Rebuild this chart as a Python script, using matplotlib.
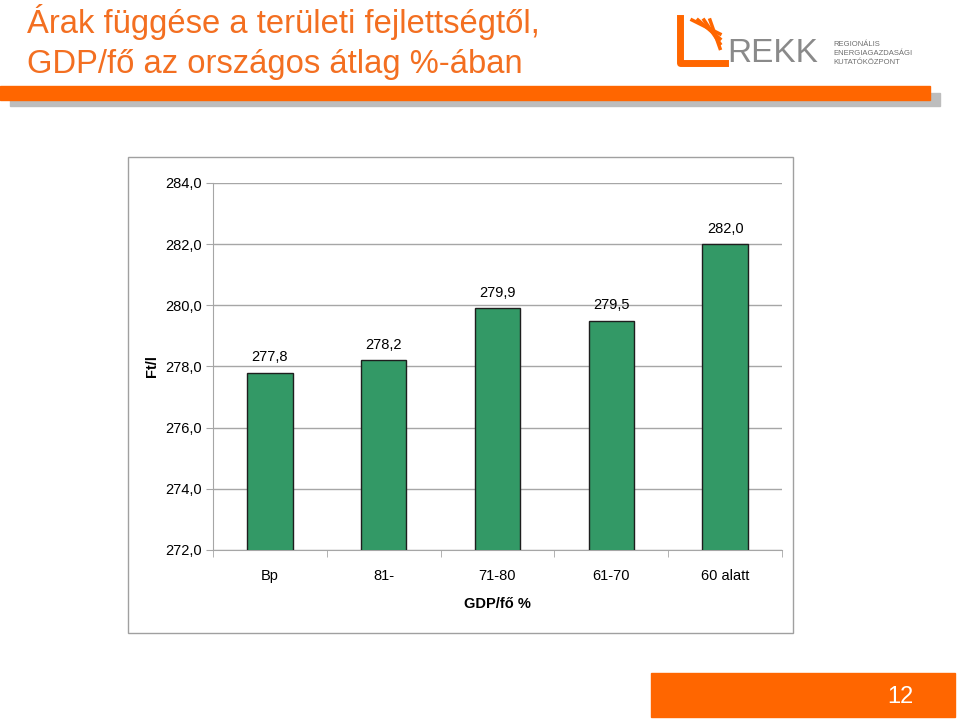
import matplotlib
matplotlib.use("Agg")
import matplotlib.pyplot as plt
from matplotlib.patches import Rectangle
import numpy as np

categories = ["Bp", "81-", "71-80", "61-70", "60 alatt"]
values = [277.8, 278.2, 279.9, 279.5, 282.0]
yticks = [272.0, 274.0, 276.0, 278.0, 280.0, 282.0, 284.0]

ORANGE = "#FF6600"
TITLE_ORANGE = "#F36F21"
plt.rcParams['font.family'] = ['Liberation Sans', 'DejaVu Sans']

W, H = 960, 719
fig = plt.figure(figsize=(9.6, 7.19), dpi=100)

def fx(x): return x / W
def fy(y): return 1 - y / H

# title
fig.text(fx(27), fy(22), "Árak függése a területi fejlettségtől,", color=TITLE_ORANGE,
         fontsize=23.6, va="center", ha="left")
fig.text(fx(27), fy(64), "GDP/fő az országos átlag %-ában", color=TITLE_ORANGE,
         fontsize=23.6, va="center", ha="left")

# orange band with shadow
fig.patches.append(Rectangle((fx(10), fy(106)), fx(930), 13 / H, transform=fig.transFigure,
                             color="#BDBDBD", zorder=1))
fig.patches.append(Rectangle((0, fy(100)), fx(930), 14 / H, transform=fig.transFigure,
                             color=ORANGE, zorder=2))

# logo
for i, off in enumerate([0, 6, 12, 18]):
    fig.lines.append(plt.Line2D([fx(692 + off), fx(720)], [fy(20), fy(34 + off * 0.8)],
                                transform=fig.transFigure, color=ORANGE, lw=2.5))
fig.lines.append(plt.Line2D([fx(680), fx(680), fx(725)], [fy(18), fy(63), fy(63)],
                            transform=fig.transFigure, color=ORANGE, lw=5))
fig.text(fx(727), fy(54), "REKK", color="#8A8A8A", fontsize=24,
         va="center", ha="left")
for j, t in enumerate(["REGIONÁLIS", "ENERGIAGAZDASÁGI", "KUTATÓKÖZPONT"]):
    fig.text(fx(833), fy(44 + j * 9.5), t, color="#6E6E6E", fontsize=5.5,
             va="center", ha="left")

# chart border
fig.patches.append(Rectangle((fx(128), fy(633)), fx(793 - 128), (633 - 157) / H,
                             transform=fig.transFigure, fill=False, edgecolor="#A0A0A0", lw=1))

# axes
ax = fig.add_axes([fx(213), fy(550), fx(782 - 213), (550 - 183) / H])
x = np.arange(len(categories))
ax.bar(x, values, width=0.40, color="#339966", edgecolor="#1E1E1E", linewidth=1, zorder=3)
ax.set_xlim(-0.5, len(categories) - 0.5)
ax.set_ylim(272, 284)
ax.set_yticks(yticks)
ax.set_yticklabels([f"{v:.1f}".replace(".", ",") for v in yticks], fontsize=10.5)
ax.yaxis.grid(True, color="#A6A6A6", lw=1)
ax.set_axisbelow(True)
for s in ["top", "right"]:
    ax.spines[s].set_visible(False)
ax.spines["left"].set_color("#A6A6A6")
ax.spines["bottom"].set_color("#A6A6A6")
ax.tick_params(axis="y", length=5, color="#A6A6A6", pad=3, direction="out")
ax.set_xticks(x)
ax.set_xticklabels(categories, fontsize=10.5)
ax.tick_params(axis="x", length=0, pad=14)
ax.set_xticks(np.arange(-0.5, len(categories) + 0.5, 1), minor=True)
ax.tick_params(axis="x", which="minor", length=5, color="#A6A6A6")

for xi, v in zip(x, values):
    ax.annotate(f"{v:.1f}".replace(".", ","), (xi, v), xytext=(0, 6), textcoords="offset points",
                ha="center", va="bottom", fontsize=10.5)

ax.set_xlabel("GDP/fő %", fontsize=10.5, fontweight="bold", labelpad=10)
fig.text(fx(152), fy(366), "Ft/l", rotation=90, fontsize=10.5, fontweight="bold",
         va="center", ha="center")

# page number box
fig.patches.append(Rectangle((fx(651), fy(717)), fx(955 - 651), (717 - 673) / H,
                             transform=fig.transFigure, color=ORANGE))
fig.text(fx(900), fy(697), "12", color="white", fontsize=17, va="center", ha="center")

fig.savefig("out.png", dpi=100)
